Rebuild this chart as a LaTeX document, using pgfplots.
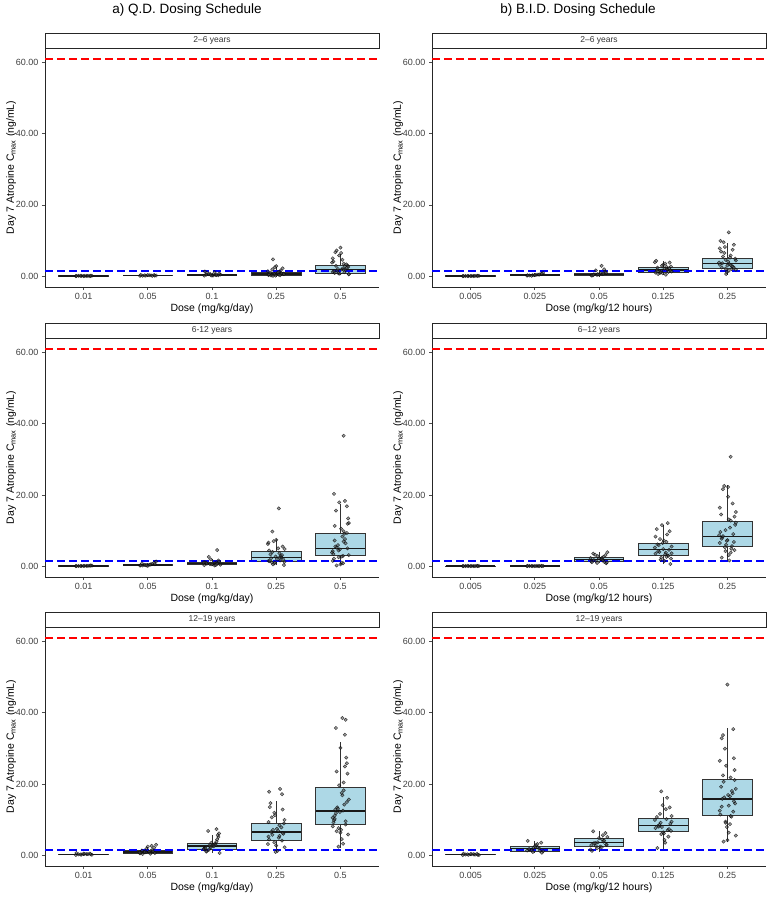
\documentclass[border=0pt]{standalone}
\usepackage{fontspec}
\setmainfont{Liberation Sans}
\usepackage{pgfplots}
\pgfplotsset{compat=1.18}
\usepgfplotslibrary{statistics}
\definecolor{boxblue}{HTML}{ADD8E6}
\pgfplotsset{
  boxplot/every median/.style={line width=1.4pt, draw=black!90},
  bxs/.style={draw=black!80, fill=boxblue, line width=0.8pt},
  pts/.style={only marks, mark=*, mark size=1.7pt,
    mark options={draw=black, fill=black!70, draw opacity=0.7, fill opacity=0.55, line width=0.45pt}},
  panel/.style={
    scale only axis, width=334pt, height=239pt,
    xmin=0.4, xmax=5.6, ymin=-3.05, ymax=64.05, enlargelimits=false,
    axis x line*=bottom, axis y line*=left,
    axis line style={line width=0.8pt, black!85},
    tick align=outside, major tick length=3pt,
    tick style={black!70, line width=0.6pt},
    xtick={1,2,3,4,5}, ytick={0,20,40,60},
    yticklabels={0.00,20.00,40.00,60.00},
    ticklabel style={font=\fontsize{9}{10}\selectfont, text=black!75},
    label style={font=\fontsize{10.5}{12}\selectfont},
    ylabel={Day 7 Atropine C\textsubscript{max} (ng/mL)},
    xlabel style={yshift=3pt},
    ylabel style={yshift=-7pt},
    clip=false,
    anchor=north west},
  panelL/.style={panel, xticklabels={0.01,0.05,0.1,0.25,0.5}, xlabel={Dose (mg/kg/day)}},
  panelR/.style={panel, xticklabels={0.005,0.025,0.05,0.125,0.25}, xlabel={Dose (mg/kg/12 hours)}},
}
\newcommand{\bx}[6]{\addplot[bxs, boxplot/draw direction=y, boxplot prepared={draw position=#1, lower whisker=#2, lower quartile=#3, median=#4, upper quartile=#5, upper whisker=#6, box extend=0.77, whisker extend=0}] coordinates {};}
\newcommand{\refl}{%
  \addplot[red, line width=1.4pt, dash pattern=on 8pt off 4pt] coordinates {(0.4,61) (5.6,61)};
  \addplot[blue, line width=1.4pt, dash pattern=on 8pt off 4pt] coordinates {(0.4,1.4) (5.6,1.4)};}
\newcommand{\strip}[1]{%
  \draw[line width=0.9pt, black!85, fill=white] (rel axis cs:0,1) rectangle ([yshift=15pt]rel axis cs:1,1);
  \node[font=\fontsize{8.5}{10}\selectfont, text=black!80] at ([yshift=7.5pt]rel axis cs:0.5,1) {#1};}
\begin{document}
\begin{tikzpicture}
\path[use as bounding box] (0pt,0pt) rectangle (775pt,-899pt);
\node[font=\fontsize{13.5}{15}\selectfont] at (187pt,-10pt) {a) Q.D. Dosing Schedule};
\node[font=\fontsize{13.5}{15}\selectfont] at (578pt,-10pt) {b) B.I.D. Dosing Schedule};

% ---------------- Row 1 left: 2-6 years QD
\begin{axis}[panelL, at={(45pt,-48pt)}]
\bx{1}{0}{0.02}{0.05}{0.09}{0.13}
\bx{2}{0.05}{0.12}{0.18}{0.26}{0.36}
\bx{3}{0.05}{0.12}{0.28}{0.45}{1.0}
\bx{4}{0.0}{0.15}{0.55}{1.05}{2.5}
\bx{5}{0.3}{0.85}{1.9}{3.0}{6.2}
\addplot[pts] coordinates {
(0.88,0.02)(1.05,0.05)(0.97,0.08)(1.10,0.03)(0.92,0.10)(1.02,0.06)(1.13,0.12)(0.89,0.04)(1.07,0.07)(0.95,0.09)(1.00,0.01)(1.11,0.11)
(1.88,0.08)(2.05,0.20)(1.97,0.15)(2.10,0.30)(1.92,0.12)(2.02,0.25)(2.13,0.18)(1.89,0.35)(2.07,0.10)(1.95,0.22)(2.00,0.28)(2.11,0.14)
(2.88,0.15)(3.05,0.35)(2.97,0.60)(3.10,0.25)(2.92,0.90)(3.02,0.20)(3.13,0.45)(2.89,1.30)(3.07,0.30)(2.95,0.55)(3.00,0.12)(3.11,0.75)(2.91,0.40)(3.04,1.10)(2.98,0.28)
(3.88,0.3)(4.05,1.2)(3.97,0.6)(4.10,2.2)(3.92,0.2)(4.02,0.9)(3.95,4.7)(3.89,0.5)(4.07,1.6)(3.95,0.1)(4.00,2.8)(4.11,0.7)(3.91,1.0)(4.04,0.4)(3.98,2.5)(4.08,0.8)(3.87,1.4)(4.06,0.25)(3.94,1.9)(4.12,0.55)(3.99,0.15)(4.03,1.1)
(4.88,1.2)(5.05,3.5)(4.97,0.8)(5.10,2.4)(4.92,6.7)(5.02,1.9)(5.13,0.5)(4.89,4.1)(5.07,2.8)(4.95,1.5)(5.00,8.0)(5.11,3.0)(4.91,0.9)(5.04,2.2)(4.98,5.8)(5.08,1.7)(4.87,3.8)(5.06,1.1)(4.94,7.2)(5.12,2.6)(4.99,0.7)(5.03,4.6)(4.90,1.4)(5.09,3.3)(4.96,2.0)(5.01,6.5)(5.13,0.6)(4.93,2.9)(5.05,1.8)(4.88,5.0)
};
\refl
\strip{2--6 years}
\end{axis}

% ---------------- Row 1 right: 2-6 years BID
\begin{axis}[panelR, at={(432pt,-48pt)}]
\bx{1}{0}{0.02}{0.04}{0.07}{0.1}
\bx{2}{0.05}{0.15}{0.28}{0.42}{0.8}
\bx{3}{0.1}{0.15}{0.45}{0.75}{1.6}
\bx{4}{0.3}{1.0}{1.7}{2.4}{4.3}
\bx{5}{0.4}{2.2}{3.5}{5.0}{9.2}
\addplot[pts] coordinates {
(0.88,0.01)(1.05,0.04)(0.97,0.02)(1.10,0.07)(0.92,0.03)(1.02,0.05)(1.13,0.08)(0.89,0.02)(1.07,0.06)(0.95,0.03)(1.00,0.04)(1.11,0.09)
(1.88,0.15)(2.05,0.40)(1.97,0.28)(2.10,0.60)(1.92,0.20)(2.02,0.35)(2.13,0.90)(1.89,0.25)(2.07,0.45)(1.95,0.10)(2.00,0.32)(2.11,0.70)
(2.88,0.2)(3.05,0.6)(2.97,0.35)(3.10,1.2)(2.92,0.5)(3.02,0.8)(3.04,2.9)(2.89,0.15)(3.07,0.7)(2.95,1.6)(3.00,0.45)(3.11,0.9)(2.91,0.3)(3.08,1.9)(2.98,0.55)
(3.88,1.0)(4.05,2.6)(3.97,1.5)(4.10,3.8)(3.92,0.6)(4.02,2.1)(4.13,1.3)(3.89,4.3)(4.07,1.8)(3.95,0.9)(4.00,3.2)(4.11,1.6)(3.91,2.4)(4.04,0.4)(3.98,2.9)(4.08,1.2)(3.87,3.9)(4.06,2.0)(3.94,1.4)(4.12,2.7)(3.99,0.8)(4.03,3.5)(3.90,1.7)(4.09,2.2)(3.96,1.1)
(4.88,3.2)(5.05,5.8)(4.97,2.1)(5.10,8.8)(4.92,3.6)(5.02,1.5)(5.13,4.4)(4.89,9.9)(5.07,2.8)(4.95,6.5)(5.00,3.0)(5.02,12.3)(4.91,2.4)(5.04,5.2)(4.98,0.6)(5.08,7.4)(4.87,3.8)(5.06,2.0)(4.94,9.5)(5.12,4.9)(4.99,1.2)(5.03,3.4)(4.90,6.9)(5.09,2.6)(4.96,8.2)(5.01,4.1)(5.13,1.8)(4.93,5.5)(5.05,3.1)(4.88,7.8)(5.10,2.3)(4.97,4.6)
};
\refl
\strip{2--6 years}
\end{axis}

% ---------------- Row 2 left: 6-12 years QD
\begin{axis}[panelL, at={(45pt,-338pt)}]
\bx{1}{0}{0.03}{0.06}{0.12}{0.2}
\bx{2}{0.1}{0.2}{0.35}{0.6}{1.0}
\bx{3}{0.2}{0.45}{0.75}{1.1}{1.9}
\bx{4}{0.3}{1.4}{2.5}{4.0}{7.6}
\bx{5}{0.2}{2.9}{5.0}{9.3}{17.5}
\addplot[pts] coordinates {
(0.88,0.01)(1.05,0.06)(0.97,0.03)(1.10,0.12)(0.92,0.02)(1.02,0.08)(1.13,0.15)(0.89,0.04)(1.07,0.10)(0.95,0.05)(1.00,0.07)(1.11,0.18)
(1.88,0.15)(2.05,0.50)(1.97,0.30)(2.10,0.90)(1.92,0.20)(2.02,0.40)(2.13,1.30)(1.89,0.25)(2.07,0.65)(1.95,0.35)(2.00,0.10)(2.11,0.55)(1.91,0.80)(2.04,0.45)(1.98,0.22)
(2.88,0.3)(3.05,0.9)(2.97,0.55)(3.10,1.6)(2.92,0.7)(3.08,4.5)(3.13,0.4)(2.89,1.1)(3.07,0.8)(2.95,2.6)(3.00,0.5)(3.11,1.3)(2.91,0.95)(3.04,0.2)(2.98,1.9)(3.08,0.65)(2.87,1.0)(3.06,0.35)
(3.88,1.5)(4.05,3.6)(3.97,0.8)(4.10,5.5)(3.92,2.2)(3.94,9.7)(4.13,1.2)(3.89,4.4)(4.07,2.9)(3.95,0.5)(4.00,7.4)(4.11,1.9)(3.91,3.3)(4.04,16.2)(3.98,1.0)(4.08,2.5)(3.87,6.2)(4.06,1.6)(3.94,4.0)(4.12,0.3)(3.99,2.7)(4.03,5.0)(3.90,1.4)(4.09,3.1)(3.96,7.0)(4.01,2.0)(4.13,4.8)(3.93,1.1)(4.05,2.4)(3.88,6.6)
(4.88,4.2)(5.05,9.8)(4.97,2.5)(5.10,16.8)(4.92,5.5)(5.02,1.0)(5.13,12.1)(4.89,3.4)(5.07,7.6)(5.05,36.6)(5.00,0.5)(5.11,5.0)(4.91,11.3)(5.04,2.9)(4.98,17.9)(5.08,6.4)(4.87,3.8)(5.06,9.1)(4.94,0.2)(5.12,13.4)(4.99,4.7)(5.03,8.3)(4.90,2.1)(4.90,20.3)(4.96,5.9)(5.01,10.5)(5.13,3.1)(4.93,15.6)(5.05,6.9)(4.88,1.5)(5.10,9.3)(4.97,4.4)(5.07,18.3)(4.91,7.2)(5.02,2.7)(5.11,11.9)(4.94,5.2)(5.04,0.8)
};
\refl
\strip{6-12 years}
\end{axis}

% ---------------- Row 2 right: 6-12 years BID
\begin{axis}[panelR, at={(432pt,-338pt)}]
\bx{1}{0}{0.01}{0.03}{0.05}{0.08}
\bx{2}{0}{0.02}{0.04}{0.06}{0.09}
\bx{3}{0.8}{1.2}{1.9}{2.5}{3.9}
\bx{4}{0.6}{3.0}{4.6}{6.4}{11.5}
\bx{5}{1.5}{5.5}{8.4}{12.7}{22.7}
\addplot[pts] coordinates {
(0.88,0.01)(1.05,0.03)(0.97,0.02)(1.10,0.06)(0.92,0.01)(1.02,0.04)(1.13,0.05)(0.89,0.02)(1.07,0.03)(0.95,0.07)(1.00,0.01)(1.11,0.04)
(1.88,0.02)(2.05,0.04)(1.97,0.01)(2.10,0.06)(1.92,0.03)(2.02,0.05)(2.13,0.02)(1.89,0.08)(2.07,0.03)(1.95,0.04)(2.00,0.01)(2.11,0.06)
(2.88,1.3)(3.05,2.4)(2.97,0.9)(3.10,3.1)(2.92,1.7)(3.02,2.0)(3.13,3.9)(2.89,1.1)(3.07,2.6)(2.95,1.5)(3.00,2.2)(3.11,0.8)(2.91,3.5)(3.04,1.9)(2.98,2.8)(3.08,1.2)(2.87,2.3)(3.06,1.6)(2.94,3.2)(3.12,1.0)
(3.88,3.5)(4.05,6.8)(3.97,2.4)(4.10,9.8)(3.92,4.2)(4.02,1.5)(4.13,5.5)(4.07,12.1)(4.07,3.0)(3.95,7.6)(4.00,4.8)(4.11,0.6)(3.91,6.1)(4.04,3.8)(3.98,11.5)(4.08,2.9)(3.87,5.2)(4.06,8.9)(3.94,4.0)(4.12,2.1)(3.99,6.5)(4.03,3.3)(3.90,10.4)(4.09,4.6)(3.96,1.8)(4.01,7.2)(4.13,3.6)(3.93,5.9)(4.05,2.6)(3.88,8.3)
(4.88,6.5)(5.05,12.8)(4.97,4.2)(4.95,22.5)(4.92,8.0)(5.02,3.1)(5.13,15.2)(4.89,9.6)(5.07,5.6)(5.05,30.7)(5.00,7.3)(5.11,13.9)(4.91,2.4)(5.04,10.8)(4.98,6.0)(5.08,17.6)(4.87,8.7)(5.06,4.9)(5.01,22.2)(5.12,11.6)(4.99,7.1)(5.03,1.6)(4.90,14.5)(5.09,9.0)(4.96,5.3)(5.01,19.5)(5.13,12.2)(4.93,8.4)(5.05,3.8)(4.88,16.4)(5.10,6.8)(4.97,10.1)(4.93,21.6)(4.91,7.7)(5.02,13.1)(5.11,4.5)
};
\refl
\strip{6--12 years}
\end{axis}

% ---------------- Row 3 left: 12-19 years QD
\begin{axis}[panelL, at={(45pt,-627pt)}]
\bx{1}{0.02}{0.12}{0.25}{0.35}{0.6}
\bx{2}{0.2}{0.6}{0.85}{1.3}{2.3}
\bx{3}{0.6}{1.7}{2.6}{3.3}{5.6}
\bx{4}{0.9}{4.2}{6.5}{8.9}{15.1}
\bx{5}{2.0}{8.7}{12.4}{18.9}{31.8}
\addplot[pts] coordinates {
(0.88,0.05)(1.05,0.30)(0.97,0.15)(1.10,0.45)(0.92,0.22)(1.02,0.35)(1.13,0.10)(0.89,0.60)(1.07,0.28)(0.95,0.18)(1.00,0.40)(1.11,0.25)
(1.88,0.5)(2.05,1.2)(1.97,0.8)(2.10,2.1)(1.92,0.3)(2.02,1.0)(2.13,2.9)(1.89,0.7)(2.07,1.5)(1.95,0.9)(2.00,2.4)(2.11,0.6)(1.91,1.3)(2.04,0.4)(1.98,1.8)(2.08,1.1)(1.87,0.75)(2.06,2.6)
(2.88,1.8)(3.05,3.2)(2.97,2.4)(3.10,5.1)(2.92,1.2)(3.02,2.9)(3.07,7.3)(2.89,2.0)(3.07,3.8)(2.95,1.5)(3.00,2.6)(3.11,6.1)(2.91,1.0)(3.04,3.0)(2.98,2.2)(3.08,4.4)(2.87,1.7)(3.06,2.8)(2.94,6.8)(3.12,0.6)(2.99,3.5)(3.03,2.5)(2.90,1.9)(3.09,5.6)(2.96,2.7)
(3.88,5.2)(4.05,8.4)(3.97,3.6)(4.10,12.8)(3.92,6.5)(4.02,1.2)(4.13,9.9)(3.89,4.4)(3.89,17.8)(3.95,7.1)(4.00,2.7)(4.11,6.0)(3.91,14.6)(4.04,4.9)(3.98,11.2)(4.08,7.8)(3.87,3.1)(4.06,18.6)(3.94,5.7)(4.12,8.9)(3.99,0.9)(4.03,6.8)(3.90,13.5)(4.09,4.1)(4.09,17.1)(4.01,7.4)(4.13,2.2)(3.93,10.6)(4.05,5.4)(3.88,9.3)(4.10,6.2)(3.97,11.9)
(4.88,10.5)(5.05,18.2)(4.97,7.6)(5.10,25.8)(4.92,12.8)(5.02,4.5)(5.13,15.6)(4.89,9.2)(5.07,33.8)(4.95,13.4)(5.00,6.3)(5.11,22.9)(4.91,11.1)(5.04,3.2)(4.98,19.6)(5.08,8.6)(5.03,38.5)(5.06,14.2)(4.94,23.5)(5.12,5.8)(4.99,12.1)(5.03,16.8)(4.90,9.8)(5.09,27.4)(4.96,13.0)(5.01,7.1)(4.93,35.7)(4.93,11.8)(5.05,20.4)(4.88,8.1)(5.10,14.9)(4.97,2.4)(5.07,24.9)(4.91,10.2)(5.02,17.5)(5.08,38.0)(4.94,6.7)(5.04,12.5)(5.00,30.1)(5.08,9.5)
};
\refl
\strip{12--19 years}
\end{axis}

% ---------------- Row 3 right: 12-19 years BID
\begin{axis}[panelR, at={(432pt,-627pt)}]
\bx{1}{0}{0.08}{0.2}{0.3}{0.45}
\bx{2}{0.6}{1.1}{1.8}{2.4}{4.0}
\bx{3}{1.0}{2.5}{3.5}{4.6}{6.7}
\bx{4}{1.8}{6.8}{8.3}{10.4}{16.3}
\bx{5}{3.6}{11.1}{15.8}{21.2}{35.7}
\addplot[pts] coordinates {
(0.88,0.02)(1.05,0.25)(0.97,0.10)(1.10,0.35)(0.92,0.18)(1.02,0.28)(1.13,0.05)(0.89,0.40)(1.07,0.15)(0.95,0.22)(1.00,0.30)(1.11,0.12)
(1.88,1.3)(2.05,2.2)(1.97,0.9)(2.10,3.5)(1.92,1.6)(2.02,2.8)(2.13,1.1)(1.89,4.0)(2.07,1.9)(1.95,1.4)(2.00,2.5)(2.11,0.7)(1.91,1.7)(2.04,3.1)(1.98,2.0)(2.08,1.2)
(2.88,2.8)(3.05,4.4)(2.97,1.9)(3.10,6.2)(2.92,3.3)(3.02,2.4)(3.13,5.1)(2.89,1.2)(3.07,3.8)(2.95,2.6)(3.00,4.8)(3.11,3.0)(2.91,6.7)(3.04,2.2)(2.98,3.6)(3.08,4.1)(2.87,1.6)(3.06,5.6)(2.94,3.4)(3.12,2.9)
(3.88,7.6)(4.05,10.1)(3.97,5.9)(4.10,13.4)(3.92,8.2)(4.02,4.3)(4.13,9.4)(3.97,17.9)(4.07,7.0)(3.95,11.6)(4.00,6.4)(4.11,8.8)(3.91,2.0)(4.04,12.9)(3.98,7.9)(4.08,5.2)(3.87,9.9)(4.06,16.1)(3.94,8.5)(4.12,6.8)(3.99,14.0)(4.03,3.5)(3.90,10.7)(4.09,7.3)(3.96,9.1)(4.01,6.1)(4.13,11.0)(3.93,8.0)
(4.88,12.5)(5.05,21.8)(4.97,9.4)(5.10,27.2)(4.92,15.8)(5.02,6.3)(5.13,18.6)(4.89,11.4)(4.93,33.7)(4.95,16.2)(5.00,4.2)(5.11,23.9)(4.91,13.6)(5.04,8.7)(4.98,25.1)(5.08,17.4)(5.00,47.9)(5.06,10.8)(4.94,20.6)(5.12,14.5)(4.99,7.9)(5.09,35.4)(4.90,19.2)(5.09,12.2)(4.96,29.9)(5.01,16.9)(5.13,5.5)(4.93,22.4)(5.05,11.0)(4.88,26.5)(5.10,15.1)(4.97,9.1)(5.07,18.0)(4.91,32.8)(5.02,13.9)(5.11,21.1)(4.94,3.8)(5.04,16.5)
};
\refl
\strip{12--19 years}
\end{axis}
\end{tikzpicture}
\end{document}
